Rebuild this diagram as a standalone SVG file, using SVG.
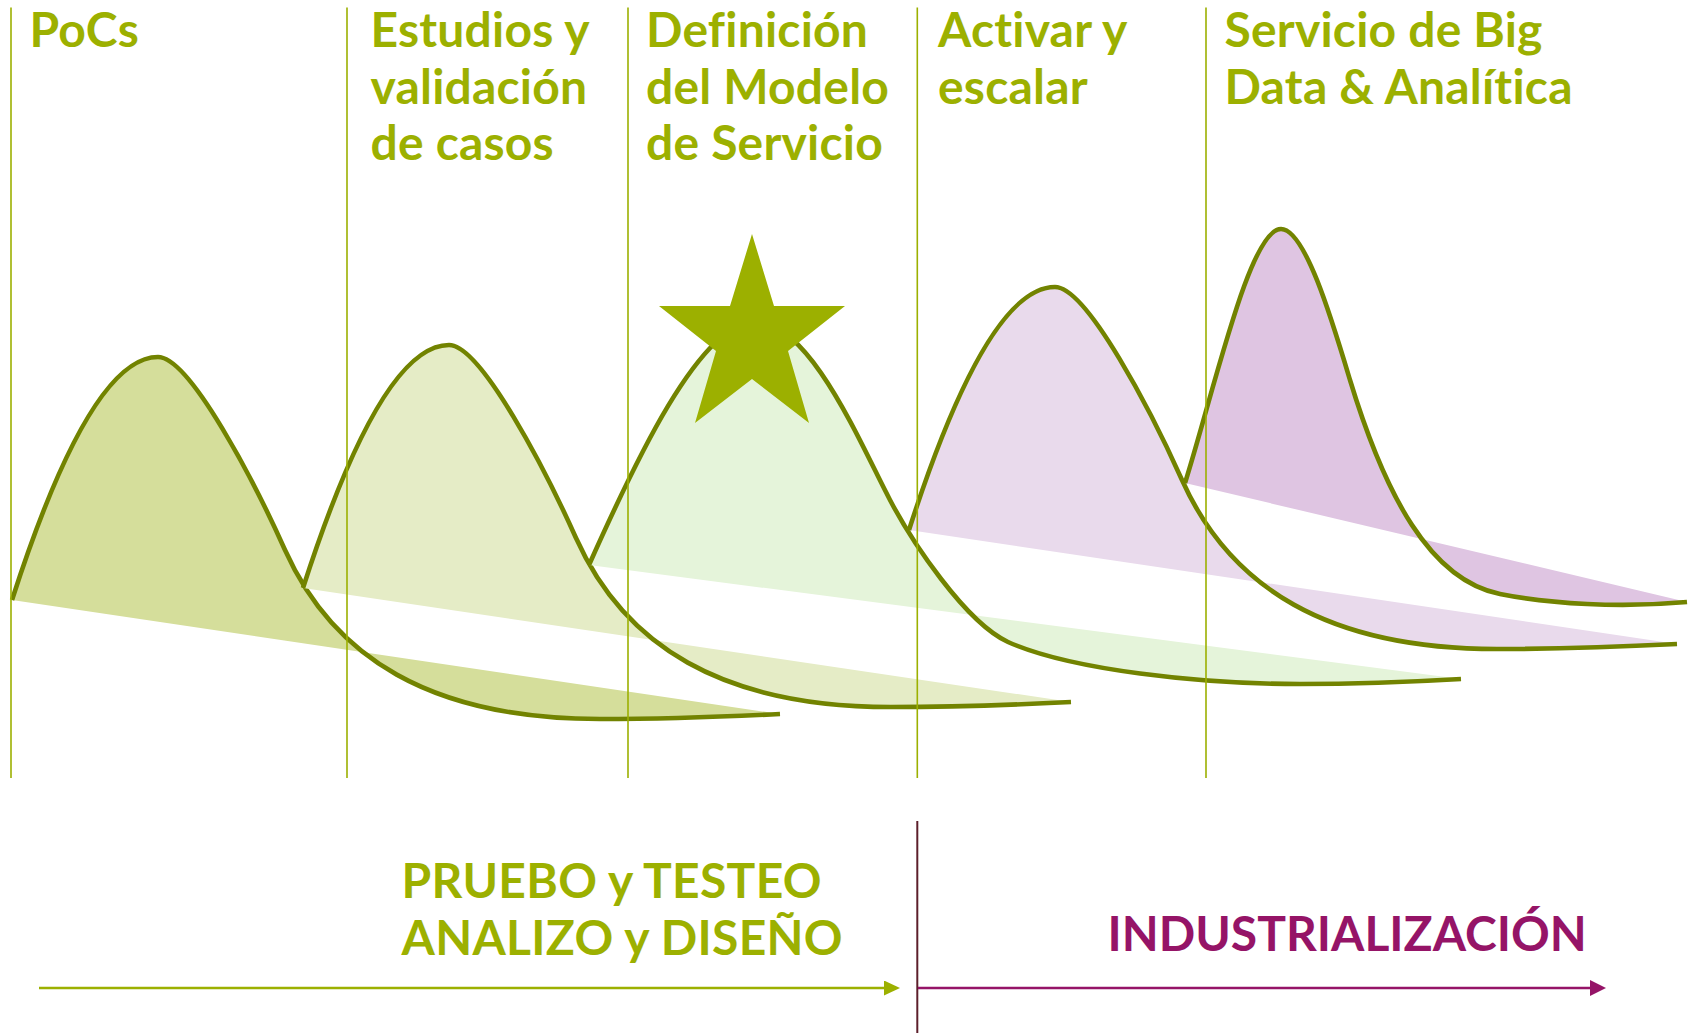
<svg xmlns="http://www.w3.org/2000/svg" width="1694" height="1033" viewBox="0 0 1694 1033">
<style>
.lbl{font-family:Lato,"Liberation Sans",sans-serif;font-weight:700;font-size:48px;fill:#9CB000}
.top{letter-spacing:0.2px}
.bot{letter-spacing:0.3px}
.pur{fill:#951467}
.vline{stroke:#9CB000;stroke-width:1.6;fill:none}
.curve{fill:none;stroke:#728300;stroke-width:4.6;stroke-linejoin:round;stroke-linecap:butt}
</style>
<defs>
<marker id="ahG" markerWidth="16" markerHeight="15" refX="0" refY="7.5" orient="auto" markerUnits="userSpaceOnUse">
<path d="M0,0 L16,7.5 L0,15 Z" fill="#9CB000"/>
</marker>
<marker id="ahP" markerWidth="16" markerHeight="16" refX="0" refY="8" orient="auto" markerUnits="userSpaceOnUse">
<path d="M0,0 L16,8 L0,16 Z" fill="#951467"/>
</marker>
</defs>
<rect width="1694" height="1033" fill="#ffffff"/>

<g id="curve-1">
<path fill="#D5DE9B" d="M12,600 C58,457 108,357 158,357 C190,357 255,483 285,550 C333,657 430,719 600,719 C660,719 720,717 780,714 Z"/>
<path class="curve" d="M12,600 C58,457 108,357 158,357 C190,357 255,483 285,550 C333,657 430,719 600,719 C660,719 720,717 780,714"/>
</g>
<g id="curve-2">
<path fill="#E5ECC6" d="M303,588 C349,445 399,345 449,345 C481,345 546,471 576,538 C624,645 721,707 891,707 C951,707 1011,705 1071,702 Z"/>
<path class="curve" d="M303,588 C349,445 399,345 449,345 C481,345 546,471 576,538 C624,645 721,707 891,707 C951,707 1011,705 1071,702"/>
</g>
<g id="curve-3">
<path fill="#E5F4DA" d="M589,565 C634,464 700,322 755,322 C810,322 860,443 890,500 C911,540 965,622 1008,642 C1071,670 1200,684 1300,684 C1360,684 1410,682 1461,679 Z"/>
<path class="curve" d="M589,565 C634,464 700,322 755,322 C810,322 860,443 890,500 C911,540 965,622 1008,642 C1071,670 1200,684 1300,684 C1360,684 1410,682 1461,679"/>
</g>
<g id="curve-4">
<path fill="#E9DAEC" d="M909,530 C955,387 1005,287 1055,287 C1087,287 1152,413 1182,480 C1230,587 1327,649 1497,649 C1557,649 1617,647 1677,644 Z"/>
<path class="curve" d="M909,530 C955,387 1005,287 1055,287 C1087,287 1152,413 1182,480 C1230,587 1327,649 1497,649 C1557,649 1617,647 1677,644"/>
</g>
<g id="curve-5">
<path fill="#DFC5E2" d="M1185,483 C1215,387 1250,229 1281,229 C1305,229 1332,320 1350,380 C1385,495 1430,580 1500,594 C1550,604 1620,608 1687,602 Z"/>
<path class="curve" d="M1185,483 C1215,387 1250,229 1281,229 C1305,229 1332,320 1350,380 C1385,495 1430,580 1500,594 C1550,604 1620,608 1687,602"/>
</g>

<g id="phase-pocs">
<line class="vline" x1="11" y1="7.5" x2="11" y2="778"/>
<text class="lbl top" x="29.5" y="47">PoCs</text>
</g>
<g id="phase-estudios">
<line class="vline" x1="347" y1="7.5" x2="347" y2="778"/>
<text class="lbl top" x="370.5" y="47">Estudios y</text>
<text class="lbl top" x="370.5" y="104">validación</text>
<text class="lbl top" x="370.5" y="160">de casos</text>
</g>
<g id="phase-definicion">
<line class="vline" x1="628" y1="7.5" x2="628" y2="778"/>
<text class="lbl top" x="646" y="47">Definición</text>
<text class="lbl top" x="646" y="104">del Modelo</text>
<text class="lbl top" x="646" y="160">de Servicio</text>
</g>
<g id="phase-activar">
<line class="vline" x1="917.3" y1="7.5" x2="917.3" y2="778"/>
<text class="lbl top" x="938" y="47">Activar y</text>
<text class="lbl top" x="938" y="104">escalar</text>
</g>
<g id="phase-servicio">
<line class="vline" x1="1206" y1="7.5" x2="1206" y2="778"/>
<text class="lbl top" x="1224.5" y="47">Servicio de Big</text>
<text class="lbl top" x="1224.5" y="104">Data &amp; Analítica</text>
</g>

<g id="star">
<polygon fill="#9CB000" points="752,234 774,306 845,306 788,351 809,423 752,379 695,423 716,351 659,306 730,306"/>
</g>

<g id="stage-prueba">
<text class="lbl bot" x="401.5" y="898">PRUEBO y TESTEO</text>
<text class="lbl bot" x="401.5" y="955">ANALIZO y DISEÑO</text>
</g>
<g id="stage-industrializacion">
<text class="lbl pur" x="1107.5" y="951">INDUSTRIALIZACIÓN</text>
</g>

<g id="connectors">
<line x1="917.3" y1="821" x2="917.3" y2="1033" stroke="#5C1F2B" stroke-width="2"/>
<line x1="39" y1="988" x2="884" y2="988" stroke="#9CB000" stroke-width="2.6" marker-end="url(#ahG)"/>
<line x1="918" y1="988" x2="1590" y2="988" stroke="#951467" stroke-width="2.6" marker-end="url(#ahP)"/>
</g>
</svg>
